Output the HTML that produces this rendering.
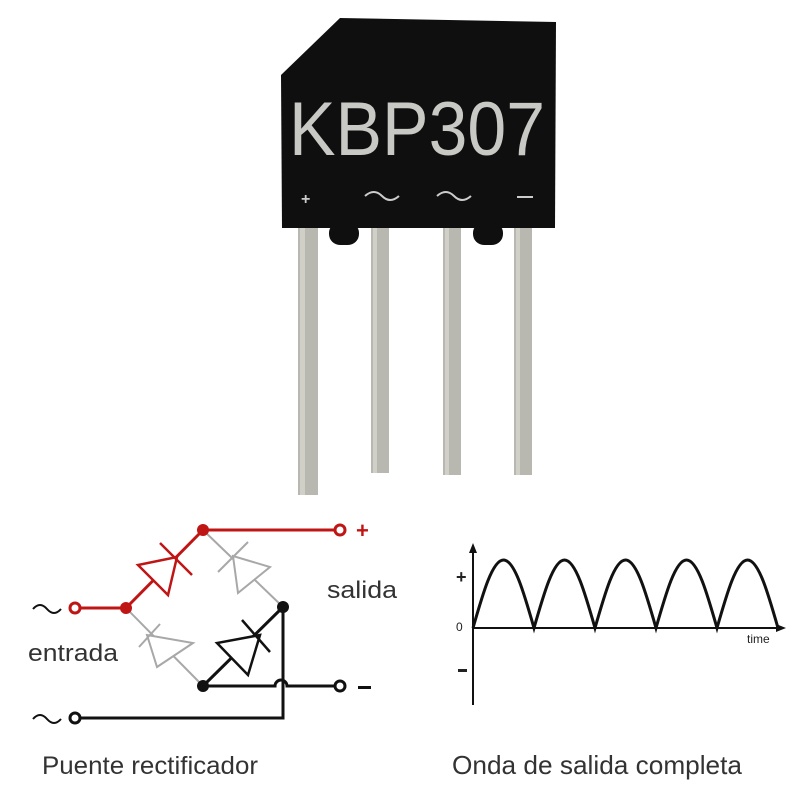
<!DOCTYPE html>
<html><head><meta charset="utf-8"><style>
html,body{margin:0;padding:0;background:#fff;}
svg{display:block}
</style></head><body>
<svg width="800" height="800" viewBox="0 0 800 800" xmlns="http://www.w3.org/2000/svg" font-family="Liberation Sans, sans-serif">
<rect width="800" height="800" fill="#fff"/>
<!-- pins -->
<rect x="298" y="225" width="20" height="270" fill="#b8b8b0"/>
<rect x="371" y="225" width="18" height="248" fill="#b8b8b0"/>
<rect x="443" y="225" width="18" height="250" fill="#b8b8b0"/>
<rect x="514" y="225" width="18" height="250" fill="#b8b8b0"/>
<rect x="300" y="225" width="5" height="270" fill="#d0d0c8"/>
<rect x="373" y="225" width="4" height="248" fill="#d0d0c8"/>
<rect x="445" y="225" width="4" height="250" fill="#d0d0c8"/>
<rect x="516" y="225" width="4" height="250" fill="#d0d0c8"/>
<!-- body -->
<polygon points="281,75 340,18 556,22 555,228 282,228" fill="#0f0f0f"/>
<rect x="329" y="222" width="30" height="23" rx="11" fill="#0f0f0f"/>
<rect x="473" y="222" width="30" height="23" rx="11" fill="#0f0f0f"/>
<text x="289" y="155" font-size="76" fill="#c8c8c4" textLength="256" lengthAdjust="spacingAndGlyphs">KBP307</text>
<text x="301" y="204" font-size="16" fill="#ccc" font-weight="bold">+</text>
<path d="M365 196 q9 -8 17 0 t17 0" stroke="#ccc" stroke-width="2" fill="none"/>
<path d="M437 196 q9 -8 17 0 t17 0" stroke="#ccc" stroke-width="2" fill="none"/>
<rect x="517" y="196" width="16" height="2" fill="#ccc"/>

<!-- circuit -->
<g fill="none" stroke-width="3">
<g stroke="#a8a8a8" stroke-width="2">
<line x1="203" y1="530" x2="283" y2="607"/>
<polygon points="233,556 238,593 270,567" fill="#fff"/>
<line x1="218" y1="572" x2="248" y2="542"/>
<line x1="126" y1="608" x2="203" y2="686"/>
<polygon points="147,635 157,667 193,643" fill="#fff"/>
<line x1="139" y1="647" x2="160" y2="624"/>
</g>
<g stroke="#c01515">
<line x1="75" y1="608" x2="126" y2="608"/>
<line x1="126" y1="608" x2="203" y2="530"/>
<line x1="203" y1="530" x2="340" y2="530"/>
<polygon points="138,565 168,595 177,557" fill="#fff" stroke-width="2.5"/>
<line x1="160" y1="543" x2="192" y2="575" stroke-width="2.5"/>
</g>
<g stroke="#111">
<line x1="203" y1="686" x2="283" y2="607"/>
<polygon points="217,643 248,675 260,635" fill="#fff" stroke-width="2.5"/>
<line x1="242" y1="620" x2="270" y2="652" stroke-width="2.5"/>
<path d="M203 686 H275 a6 6 0 0 1 12 0 H340"/>
<path d="M283 607 V718 H75"/>
</g>
</g>
<circle cx="75" cy="608" r="5" fill="#fff" stroke="#c01515" stroke-width="3"/>
<circle cx="340" cy="530" r="5" fill="#fff" stroke="#c01515" stroke-width="3"/>
<circle cx="340" cy="686" r="5" fill="#fff" stroke="#111" stroke-width="3"/>
<circle cx="75" cy="718" r="5" fill="#fff" stroke="#111" stroke-width="3"/>
<circle cx="126" cy="608" r="6" fill="#c01515"/>
<circle cx="203" cy="530" r="6" fill="#c01515"/>
<circle cx="283" cy="607" r="6" fill="#111"/>
<circle cx="203" cy="686" r="6" fill="#111"/>
<text x="356" y="538" font-size="22" fill="#c01515" font-weight="bold">+</text>
<rect x="358" y="686" width="13" height="3" fill="#111"/>
<path d="M33 609 q7 -8 14 0 t14 0" stroke="#111" stroke-width="2" fill="none"/>
<path d="M33 719 q7 -8 14 0 t14 0" stroke="#111" stroke-width="2" fill="none"/>
<text x="327" y="598" font-size="24" fill="#333" textLength="70" lengthAdjust="spacingAndGlyphs">salida</text>
<text x="28" y="661" font-size="24" fill="#333" textLength="90" lengthAdjust="spacingAndGlyphs">entrada</text>
<text x="42" y="774" font-size="25" fill="#333" textLength="216" lengthAdjust="spacingAndGlyphs">Puente rectificador</text>

<!-- wave -->
<line x1="473" y1="548" x2="473" y2="705" stroke="#111" stroke-width="2"/>
<polygon points="473,543 469,553 477,553" fill="#111"/>
<line x1="473" y1="628" x2="780" y2="628" stroke="#111" stroke-width="2"/>
<polygon points="786,628 776,624 776,632" fill="#111"/>
<path d="M473 628 c9.95,-34.8 19.46,-68 30.5,-68 c11.04,0 20.55,33.2 30.5,68 c9.95,-34.8 19.46,-68 30.5,-68 c11.04,0 20.55,33.2 30.5,68 c9.95,-34.8 19.46,-68 30.5,-68 c11.04,0 20.55,33.2 30.5,68 c9.95,-34.8 19.46,-68 30.5,-68 c11.04,0 20.55,33.2 30.5,68 c9.95,-34.8 19.46,-68 30.5,-68 c11.04,0 20.55,33.2 30.5,68" stroke="#111" stroke-width="3" fill="none"/>
<text x="456" y="583" font-size="18" font-weight="bold" fill="#222">+</text>
<text x="456" y="631" font-size="12" fill="#222">0</text>
<rect x="458" y="669" width="9" height="3" fill="#222"/>
<text x="747" y="643" font-size="12" fill="#222">time</text>
<text x="452" y="774" font-size="26" fill="#333" textLength="290" lengthAdjust="spacingAndGlyphs">Onda de salida completa</text>
</svg>
</body></html>
